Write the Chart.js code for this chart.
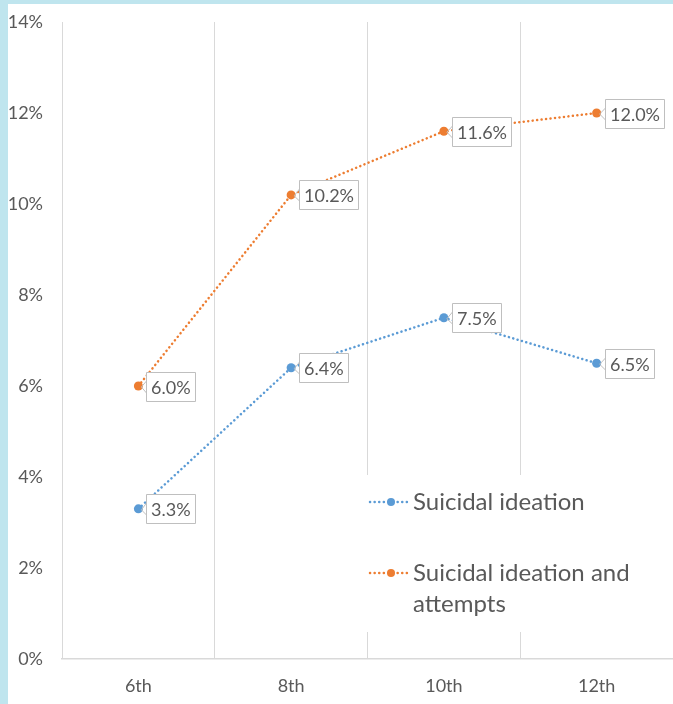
<!DOCTYPE html>
<html><head><meta charset="utf-8">
<script src="https://cdn.jsdelivr.net/npm/chart.js@4"></script>
<style>
html,body{margin:0;padding:0;background:#bfe5ee;width:673px;height:704px;overflow:hidden;}
#wrap{position:absolute;left:8px;top:4px;width:665px;height:700px;background:#fff;}
canvas{display:block}
</style></head><body>
<div id="wrap"><canvas id="c" width="665" height="700"></canvas></div>
<script>
const grades = ['6th', '8th', '10th', '12th'];
const ideation = [3.3, 6.4, 7.5, 6.5];
const attempts = [6.0, 10.2, 11.6, 12.0];
const seriesNames = ['Suicidal ideation', 'Suicidal ideation and attempts'];
const seriesColors = ['#5b9bd5', '#ed7d31'];
const yMin = 0, yMax = 14, yStep = 2;

const FONT = 'Lato, "Open Sans", sans-serif';
const TEXT = '#595959';
const GRID = '#d9d9d9';

const labelPlugin = {
  id: 'pointLabels',
  afterDatasetsDraw(chart) {
    const ctx = chart.ctx;
    ctx.save();
    ctx.font = '18px ' + FONT;
    chart.data.datasets.forEach((ds, di) => {
      const meta = chart.getDatasetMeta(di);
      meta.data.forEach((pt, i) => {
        const txt = ds.data[i].toFixed(1) + '%';
        const tw = ctx.measureText(txt).width;
        const bx = Math.round(pt.x + 8) + 0.5;
        const bh = 29;
        const by = Math.round(pt.y - bh / 2) + 0.5;
        const bw = Math.round(tw + 9);
        ctx.fillStyle = '#fff';
        ctx.strokeStyle = '#bfbfbf';
        ctx.lineWidth = 1;
        ctx.beginPath();
        ctx.rect(bx, by, bw, bh);
        ctx.fill();
        ctx.stroke();
        ctx.beginPath();
        ctx.moveTo(bx, by + bh / 2 + 6);
        ctx.lineTo(pt.x + 3, pt.y + 1);
        ctx.lineTo(bx, by + bh / 2 - 6);
        ctx.stroke();
        ctx.fillStyle = TEXT;
        ctx.textAlign = 'left';
        ctx.textBaseline = 'middle';
        ctx.fillText(txt, bx + 4.5, by + bh / 2 + 1);
      });
    });
    ctx.restore();
  }
};

const legendPlugin = {
  id: 'insideLegend',
  afterDraw(chart) {
    const ctx = chart.ctx;
    ctx.save();
    const lx = 348, ly = 471;
    ctx.fillStyle = '#fff';
    ctx.fillRect(lx, ly, chart.width - lx, 157);
    ctx.font = '24px ' + FONT;
    ctx.textAlign = 'left';
    ctx.textBaseline = 'middle';
    const maxW = chart.width - (lx + 57) - 2;
    const rows = [498, 569];
    chart.data.datasets.forEach((ds, di) => {
      const y = rows[di];
      const color = ds.borderColor;
      ctx.strokeStyle = color;
      ctx.lineWidth = 2.5;
      ctx.lineCap = 'round';
      ctx.setLineDash([0.1, 4.5]);
      ctx.beginPath();
      ctx.moveTo(lx + 14, y);
      ctx.lineTo(lx + 51, y);
      ctx.stroke();
      ctx.setLineDash([]);
      ctx.fillStyle = color;
      ctx.beginPath();
      ctx.arc(lx + 35, y, 4, 0, Math.PI * 2);
      ctx.fill();
      const words = ds.label.split(' ');
      const lines = [];
      let cur = '';
      words.forEach(w => {
        const t = cur ? cur + ' ' + w : w;
        if (ctx.measureText(t).width > maxW && cur) { lines.push(cur); cur = w; }
        else cur = t;
      });
      lines.push(cur);
      ctx.fillStyle = TEXT;
      lines.forEach((ln, k) => ctx.fillText(ln, lx + 57, y + k * 31));
    });
    ctx.restore();
  }
};

function makeDataset(label, data, color) {
  return {
    label: label,
    data: data,
    borderColor: color,
    backgroundColor: color,
    borderWidth: 2.5,
    borderDash: [0.1, 4.4],
    borderCapStyle: 'round',
    pointRadius: 4.5,
    pointHoverRadius: 4.5,
    pointBorderWidth: 0,
    tension: 0,
    fill: false
  };
}

new Chart(document.getElementById('c'), {
  type: 'line',
  data: {
    labels: grades,
    datasets: [
      makeDataset(seriesNames[0], ideation, seriesColors[0]),
      makeDataset(seriesNames[1], attempts, seriesColors[1])
    ]
  },
  options: {
    responsive: false,
    animation: false,
    devicePixelRatio: 1,
    layout: { autoPadding: false, padding: { top: 18, right: -2, left: 0, bottom: 0 } },
    plugins: { legend: { display: false }, tooltip: { enabled: false } },
    scales: {
      x: {
        offset: true,
        grid: { offset: true, color: GRID, lineWidth: 1, drawTicks: false },
        border: { display: true, color: GRID, width: 1.5 },
        ticks: { color: TEXT, font: { family: FONT, size: 18 }, padding: 16 },
        afterFit(s) { s.height = 45; s.paddingLeft = 0; s.paddingRight = 0; }
      },
      y: {
        min: yMin, max: yMax,
        grid: { display: false, drawTicks: false },
        border: { display: false },
        ticks: {
          stepSize: yStep, color: TEXT, font: { family: FONT, size: 18 }, padding: 19,
          callback: v => v + '%'
        },
        afterFit(s) { s.width = 54; s.paddingTop = 0; s.paddingBottom = 0; }
      }
    }
  },
  plugins: [labelPlugin, legendPlugin]
});
</script>
</body></html>
